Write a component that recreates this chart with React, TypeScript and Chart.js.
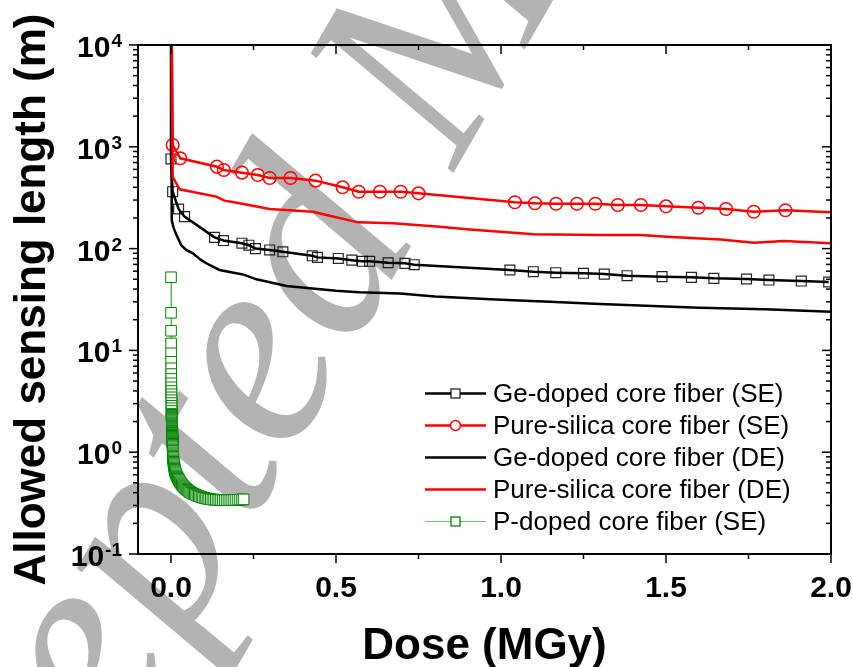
import React, { useEffect, useRef } from "react";
import { Chart, registerables } from "chart.js";
Chart.register(...registerables);

// ---------- data ----------
const geSeDose = [0, 0, 0.005, 0.023, 0.041, 0.132, 0.159, 0.215, 0.236, 0.256, 0.299, 0.339, 0.428, 0.444, 0.507, 0.548, 0.58, 0.602, 0.658, 0.709, 0.737, 1.027, 1.098, 1.166, 1.25, 1.313, 1.382, 1.488, 1.577, 1.645, 1.744, 1.812, 1.91, 1.993];
const geSeLen = [100000, 760, 362, 245, 206, 129, 120, 113, 108, 100, 97, 93, 85, 82, 80, 77, 75, 75, 72.6, 71.6, 69.5, 61.6, 59.3, 58, 57.2, 56.2, 54.2, 53, 52.2, 51, 50.3, 49.1, 48, 47];

const psSeDose = [0, 0.005, 0.028, 0.139, 0.16, 0.215, 0.263, 0.299, 0.362, 0.438, 0.52, 0.569, 0.633, 0.696, 0.75, 1.042, 1.103, 1.167, 1.23, 1.286, 1.354, 1.424, 1.5, 1.598, 1.682, 1.766, 1.862, 2.0];
const psSeLen = [100000, 1042, 771, 638, 592, 557, 529, 494, 494, 465, 400, 362, 362, 362, 349, 285, 279, 276, 276, 276, 268, 268, 260, 252, 245, 230, 238, 227];

const geDeDose = [0, 0.002, 0.0025, 0.008, 0.014, 0.031, 0.046, 0.066, 0.092, 0.107, 0.147, 0.198, 0.22, 0.259, 0.35, 0.5, 0.569, 0.694, 0.8, 1.0, 1.13, 1.3, 1.46, 1.6, 1.8, 2.0];
const geDeLen = [100000, 400, 190, 160, 142, 108, 97, 90, 77, 71.8, 61.7, 57.2, 55.5, 49.9, 43, 38.5, 37.3, 36.2, 33.9, 31.5, 30.3, 28.5, 27.3, 26.3, 25.3, 24];

const psDeDose = [0, 0.005, 0.026, 0.137, 0.162, 0.208, 0.299, 0.43, 0.471, 0.567, 0.673, 0.815, 0.896, 1.098, 1.3, 1.422, 1.503, 1.665, 1.767, 1.857, 2.0];
const psDeLen = [100000, 508, 382, 324, 296, 279, 245, 230, 214, 181, 177, 164, 155, 138, 136, 136, 131, 123, 114, 119, 113];

const pSeDose = [
  0, 0.0001, 0.0002, 0.0003, 0.0004, 0.0005, 0.0006, 0.0007, 0.0008, 0.0009,
  0.001, 0.0011, 0.0012, 0.0013, 0.0014, 0.0015, 0.0016, 0.0017, 0.0018, 0.0019,
  0.002, 0.0021, 0.0022, 0.0023, 0.0024, 0.0025, 0.0026, 0.0027, 0.0028, 0.0029,
  0.003, 0.0031, 0.0032, 0.0033, 0.0034, 0.0035, 0.0036, 0.0037, 0.0038, 0.0039,
  0.004, 0.0041, 0.0042, 0.0043, 0.0044, 0.0045, 0.0046, 0.0047, 0.0048, 0.0049,
  0.005, 0.0051, 0.0052, 0.0053, 0.0054, 0.0055, 0.0056, 0.0058, 0.006, 0.0062,
  0.0064, 0.0067, 0.007, 0.0073, 0.0077, 0.0081, 0.0086, 0.0091, 0.0097, 0.0103,
  0.011, 0.0117, 0.0125, 0.0133, 0.0143, 0.0157, 0.0172, 0.0188, 0.0205, 0.0223,
  0.0242, 0.0262, 0.0283, 0.0305, 0.0328, 0.0352, 0.0377, 0.0403, 0.043, 0.0458,
  0.0487, 0.0517, 0.0548, 0.058, 0.0614, 0.0649, 0.0685, 0.0722, 0.076, 0.08,
  0.0841, 0.0883, 0.0926, 0.097, 0.1015, 0.1061, 0.1108, 0.1156, 0.1205, 0.1255,
  0.1306, 0.1358, 0.141, 0.1463, 0.1517, 0.1572, 0.1627, 0.1683, 0.174, 0.1797,
  0.1855, 0.1913, 0.1972, 0.2031, 0.2091, 0.2151, 0.22,
];
const pSeLen = [
  52.3, 23.4, 15.6, 11.7, 9.36, 7.74, 6.67, 5.86, 5.24, 4.75,
  4.34, 3.99, 3.71, 3.46, 3.24, 3.04, 2.86, 2.7, 2.54, 2.39,
  2.33, 2.27, 2.22, 2.17, 2.12, 2.07, 2.02, 1.97, 1.93, 1.89,
  1.85, 1.81, 1.77, 1.73, 1.69, 1.65, 1.62, 1.58, 1.55, 1.51,
  1.48, 1.45, 1.42, 1.39, 1.36, 1.33, 1.3, 1.27, 1.24, 1.21,
  1.18, 1.15, 1.12, 1.09, 1.06, 1.03, 1.0, 0.975, 0.95, 0.925,
  0.9, 0.875, 0.85, 0.827, 0.805, 0.785, 0.765, 0.745, 0.725, 0.706,
  0.688, 0.67, 0.653, 0.637, 0.622, 0.605, 0.59, 0.575, 0.562, 0.547,
  0.533, 0.519, 0.506, 0.494, 0.483, 0.472, 0.462, 0.452, 0.443, 0.435,
  0.427, 0.42, 0.413, 0.406, 0.4, 0.394, 0.389, 0.384, 0.379, 0.374,
  0.37, 0.366, 0.362, 0.358, 0.355, 0.352, 0.349, 0.347, 0.345, 0.343,
  0.342, 0.341, 0.34, 0.339, 0.339, 0.338, 0.338, 0.338, 0.338, 0.338,
  0.339, 0.339, 0.34, 0.341, 0.342, 0.343, 0.344,
];

const seriesLabels = [
  "Ge-doped core fiber (SE)",
  "Pure-silica core fiber (SE)",
  "Ge-doped core fiber (DE)",
  "Pure-silica core fiber (DE)",
  "P-doped core fiber (SE)",
];

const xMajorTicks = [0, 0.5, 1.0, 1.5, 2.0];
const xMajorLabels = ["0.0", "0.5", "1.0", "1.5", "2.0"];
const xMinorTicks = [0.25, 0.75, 1.25, 1.75];
const yMajorTicks = [0.1, 1, 10, 100, 1000, 10000];
const yExponents = ["-1", "0", "1", "2", "3", "4"];
const yMinorMultipliers = [2, 3, 4, 5, 6, 7, 8, 9];

const xTitle = "Dose (MGy)";
const yTitle = "Allowed sensing length (m)";
const watermark = ["Accepte", "d Manuscript"];

// ---------- layout / style constants ----------
const W = 853;
const H = 667;
const WM = { x: 350, y: 352, angle: -60, size: 280, color: "#b3b3b3" };

function pts(xs: number[], ys: number[]) {
  return xs.map((x, i) => ({ x, y: ys[i] }));
}

const customPlugin = {
  id: "customAxes",
  beforeDraw(chart: any) {
    const ctx = chart.ctx as CanvasRenderingContext2D;
    ctx.save();
    ctx.fillStyle = "#ffffff";
    ctx.fillRect(0, 0, chart.width, chart.height);
    ctx.translate(WM.x, WM.y);
    ctx.rotate((WM.angle * Math.PI) / 180);
    ctx.font = `italic ${WM.size}px "Liberation Serif", serif`;
    ctx.fillStyle = WM.color;
    ctx.textBaseline = "alphabetic";
    ctx.textAlign = "right";
    ctx.fillText(watermark[0], 0, 0);
    ctx.textAlign = "left";
    ctx.fillText(watermark[1], 0, 0);
    ctx.restore();
  },
  afterDatasetsDraw(chart: any) {
    const ctx = chart.ctx as CanvasRenderingContext2D;
    const a = chart.chartArea;
    const xs = chart.scales.x;
    const ys = chart.scales.y;
    ctx.save();
    ctx.strokeStyle = "#000";
    ctx.lineWidth = 2;
    ctx.strokeRect(a.left, a.top, a.right - a.left, a.bottom - a.top);
    ctx.lineWidth = 1.5;
    const seg = (x1: number, y1: number, x2: number, y2: number) => {
      ctx.beginPath();
      ctx.moveTo(x1, y1);
      ctx.lineTo(x2, y2);
      ctx.stroke();
    };
    const MAJ = 9;
    const MIN = 5;
    xMajorTicks.forEach((v) => {
      const p = xs.getPixelForValue(v);
      seg(p, a.bottom, p, a.bottom + MAJ);
      seg(p, a.top, p, a.top + MAJ);
    });
    xMinorTicks.forEach((v) => {
      const p = xs.getPixelForValue(v);
      seg(p, a.bottom, p, a.bottom + MIN);
      seg(p, a.top, p, a.top + MIN);
    });
    yMajorTicks.forEach((v, i) => {
      const p = ys.getPixelForValue(v);
      seg(a.left - MAJ, p, a.left, p);
      seg(a.right - MAJ, p, a.right, p);
      if (i < yMajorTicks.length - 1) {
        yMinorMultipliers.forEach((m) => {
          const q = ys.getPixelForValue(v * m);
          seg(a.left - MIN, q, a.left, q);
          seg(a.right - MIN, q, a.right, q);
        });
      }
    });

    // tick labels
    ctx.fillStyle = "#000";
    ctx.textBaseline = "alphabetic";
    ctx.font = 'bold 30px "Liberation Sans", Arial, sans-serif';
    ctx.textAlign = "center";
    xMajorTicks.forEach((v, i) => {
      ctx.fillText(xMajorLabels[i], xs.getPixelForValue(v), 597);
    });
    const R = 122;
    yMajorTicks.forEach((v, i) => {
      const p = ys.getPixelForValue(v);
      ctx.font = 'bold 19px "Liberation Sans", Arial, sans-serif';
      const w2 = ctx.measureText(yExponents[i]).width;
      ctx.textAlign = "left";
      ctx.fillText(yExponents[i], R - w2, p + 2);
      ctx.font = 'bold 30px "Liberation Sans", Arial, sans-serif';
      ctx.textAlign = "right";
      ctx.fillText("10", R - w2 - 1, p + 12);
    });

    // axis titles
    ctx.font = 'bold 44px "Liberation Sans", Arial, sans-serif';
    ctx.textAlign = "center";
    ctx.fillText(xTitle, (a.left + a.right) / 2, 659);
    ctx.save();
    ctx.translate(45, (a.top + a.bottom) / 2);
    ctx.rotate(-Math.PI / 2);
    ctx.fillText(yTitle, 0, 0);
    ctx.restore();

    // legend
    const ds = chart.data.datasets;
    const rowY0 = 393.5;
    const rowStep = 32;
    const lx1 = 425;
    const lx2 = 486;
    const tx = 493;
    ctx.font = '26px "Liberation Sans", Arial, sans-serif';
    ctx.textAlign = "left";
    ctx.textBaseline = "middle";
    ds.forEach((d: any, i: number) => {
      const yy = rowY0 + i * rowStep;
      ctx.strokeStyle = d.legendLineColor || d.borderColor;
      ctx.lineWidth = d.borderWidth;
      seg(lx1, yy, lx2, yy);
      const cx = (lx1 + lx2) / 2;
      if (d.legendMarker === "rect") {
        ctx.fillStyle = "#fff";
        ctx.fillRect(cx - 4.5, yy - 4.5, 9, 9);
        ctx.strokeStyle = d.pointBorderColor;
        ctx.lineWidth = 1.3;
        ctx.strokeRect(cx - 4.5, yy - 4.5, 9, 9);
      } else if (d.legendMarker === "circle") {
        ctx.fillStyle = "#fff";
        ctx.beginPath();
        ctx.arc(cx, yy, 5, 0, Math.PI * 2);
        ctx.fill();
        ctx.strokeStyle = d.pointBorderColor;
        ctx.lineWidth = 1.5;
        ctx.stroke();
      }
      ctx.fillStyle = "#000";
      ctx.fillText(d.label, tx, yy + 1);
    });
    ctx.restore();
  },
};

export default function App() {
  const ref = useRef<HTMLCanvasElement | null>(null);
  useEffect(() => {
    if (!ref.current) return;
    const lastPs = psSeDose.length - 1;
    const chart = new Chart(ref.current, {
      type: "line",
      data: {
        datasets: [
          {
            label: seriesLabels[0],
            data: pts(geSeDose, geSeLen),
            borderColor: "#000000",
            borderWidth: 2.5,
            pointStyle: "rect",
            pointRadius: 7,
            pointBorderColor: "rgba(0,0,0,0.85)",
            pointBackgroundColor: "rgba(0,0,0,0)",
            pointBorderWidth: 1.2,
            order: 4,
            legendMarker: "rect",
          } as any,
          {
            label: seriesLabels[1],
            data: pts(psSeDose, psSeLen),
            borderColor: "#ff0000",
            borderWidth: 2.5,
            pointStyle: "circle",
            pointRadius: (c: any) => (c.dataIndex === lastPs ? 0 : 6.3),
            pointBorderColor: "#ff0000",
            pointBackgroundColor: "rgba(0,0,0,0)",
            pointBorderWidth: 1.5,
            order: 3,
            legendMarker: "circle",
          } as any,
          {
            label: seriesLabels[2],
            data: pts(geDeDose, geDeLen),
            borderColor: "#000000",
            borderWidth: 2.5,
            pointRadius: 0,
            order: 2,
            legendMarker: "none",
          } as any,
          {
            label: seriesLabels[3],
            data: pts(psDeDose, psDeLen),
            borderColor: "#ff0000",
            borderWidth: 2.5,
            pointRadius: 0,
            order: 1,
            legendMarker: "none",
          } as any,
          {
            label: seriesLabels[4],
            data: pts(pSeDose, pSeLen),
            borderColor: "rgba(0,128,0,0.6)",
            legendLineColor: "#6fbf6f",
            borderWidth: 1.2,
            pointStyle: "rect",
            pointRadius: 7.5,
            pointBorderColor: "#008000",
            pointBackgroundColor: "#ffffff",
            pointBorderWidth: 1,
            order: 0,
            legendMarker: "rect",
          } as any,
        ],
      },
      options: {
        animation: false,
        responsive: false,
        events: [],
        layout: { padding: { left: 138, right: 22, top: 45, bottom: 113 } },
        plugins: { legend: { display: false }, tooltip: { enabled: false }, title: { display: false } },
        elements: { line: { tension: 0 } },
        scales: {
          x: { type: "linear", min: -0.1, max: 2.0, display: false },
          y: { type: "logarithmic", min: 0.1, max: 10000, display: false },
        },
      },
      plugins: [customPlugin],
    });
    return () => chart.destroy();
  }, []);
  return (
    <div style={{ position: "fixed", left: 0, top: 0, width: W, height: H, background: "#fff" }}>
      <canvas ref={ref} width={W} height={H} style={{ display: "block" }} />
    </div>
  );
}
